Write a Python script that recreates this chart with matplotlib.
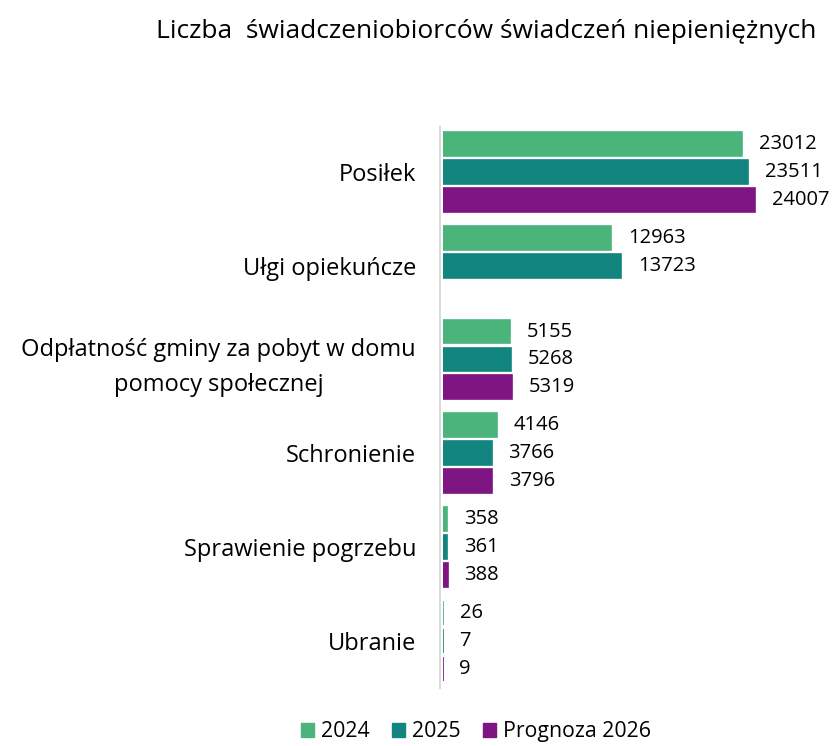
import matplotlib
matplotlib.use("Agg")
import matplotlib.pyplot as plt
import numpy as np

plt.rcParams['font.family'] = ['Open Sans', 'DejaVu Sans']

categories = ["Posiłek", "Ułgi opiekuńcze",
              "Odpłatność gminy za pobyt w domu\npomocy społecznej",
              "Schronienie", "Sprawienie pogrzebu", "Ubranie"]
series_names = ["2024", "2025", "Prognoza 2026"]
v2024 = [23012, 12963, 5155, 4146, 358, 26]
v2025 = [23511, 13723, 5268, 3766, 361, 7]
v2026 = [24007, None, 5319, 3796, 388, 9]
colors = ["#4BB47B", "#12857F", "#7F1483"]

fig = plt.figure(figsize=(8.32, 7.46), dpi=100)
ax = fig.add_axes([0.532, 0.078, 0.458, 0.752])

for s in ["top", "right", "bottom"]:
    ax.spines[s].set_visible(False)
ax.spines["left"].set_position(("outward", 1.6))
ax.spines["left"].set_color("#D9D9D9")
ax.spines["left"].set_linewidth(1.4)

y = np.arange(len(categories))
slot = 0.298
h = 0.255
for i, (vals, c, name) in enumerate(zip([v2024, v2025, v2026], colors, series_names)):
    ys = []
    xs = []
    for j, v in enumerate(vals):
        if v is None:
            continue
        ys.append(y[j] + (i - 1) * slot)
        xs.append(v)
    ax.barh(ys, xs, height=h, color=c, edgecolor=c, linewidth=1.2, label=name)
    for yy, v in zip(ys, xs):
        ax.annotate(str(v), xy=(v, yy), xytext=(12, 0), textcoords="offset points",
                    va="center", ha="left", fontsize=14.5, color="#000000")

ax.set_xlim(0, 29300)
ax.set_ylim(5.5, -0.48)
ax.set_xticks([])
ax.set_yticks(y)
ax.tick_params(axis="y", length=0, pad=17.5)
ax.set_yticklabels(categories)
for lbl in ax.get_yticklabels():
    lbl.set_fontsize(17)
    lbl.set_ha("right")
    lbl.set_multialignment("center")
    lbl.set_linespacing(1.6)

fig.text(0.584, 0.958, "Liczba  świadczeniobiorców świadczeń niepieniężnych",
         ha="center", va="center", fontsize=19)

handles = [plt.Rectangle((0, 0), 1, 1, color=c) for c in colors]
fig.legend(handles, series_names, loc="center", bbox_to_anchor=(0.572, 0.019),
           ncol=3, frameon=False, fontsize=15.3, handlelength=0.62, handleheight=0.62,
           columnspacing=1.08, handletextpad=0.3, borderpad=0.1)

fig.savefig("out.png", dpi=100)
